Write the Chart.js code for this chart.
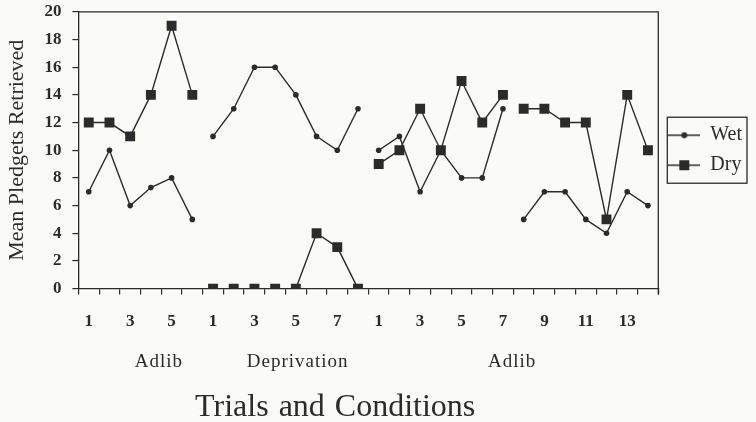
<!DOCTYPE html>
<html lang="en">
<head>
    <meta charset="UTF-8">
    <script src="https://cdn.jsdelivr.net/npm/chart.js"></script>
    <title>Mean Pledgets Retrieved</title>
    <style>
        body { margin: 0; background: #fafaf6; }
        #wrap { width: 756px; height: 422px; }
    </style>
</head>
<body>
    <div id="wrap"><canvas id="chart" width="756" height="422"></canvas></div>
    <script>
        // trial number inside each condition
        const trialLabels = ['1','2','3','4','5','6',
                             '1','2','3','4','5','6','7','8',
                             '1','2','3','4','5','6','7','8','9','10','11','12','13','14'];
        const conditionNames = ['Adlib', 'Deprivation', 'Adlib'];
        const xTitle = 'Trials and Conditions';
        const wetValues = [7, 10, 6, 7.3, 8, 5,
                           11, 13, 16, 16, 14, 11, 10, 13,
                           10, 11, 7, 10, 8, 8, 13, 5, 7, 7, 5, 4, 7, 6];
        const dryValues = [12, 12, 11, 14, 19, 14,
                           0, 0, 0, 0, 0, 4, 3, 0,
                           9, 10, 13, 10, 15, 12, 14, 13, 13, 12, 12, 5, 14, 10];
        // line is not drawn between these points and the next one
        const breakAfter = [5, 13, 20];
        const yTicks = [0, 2, 4, 6, 8, 10, 12, 14, 16, 18, 20];

        const ink = '#2b2b2b';
        const serif = "'Liberation Serif', 'Times New Roman', serif";
        // where the condition names sit under the axis (in category units)
        const conditionPos = [3.39, 10.09, 20.44];

        function legendIcon(style) {
            const c = document.createElement('canvas');
            c.width = 32; c.height = 14;
            const g = c.getContext('2d');
            g.strokeStyle = ink; g.fillStyle = ink; g.lineWidth = 1.5;
            g.beginPath(); g.moveTo(0, 7); g.lineTo(32, 7); g.stroke();
            if (style === 'rect') {
                g.fillRect(11, 2, 10, 10);
            } else {
                g.beginPath(); g.arc(16, 7, 3, 0, Math.PI * 2); g.fill();
            }
            return c;
        }

        const extras = {
            id: 'extras',
            beforeDraw(chart) {
                const ctx = chart.ctx;
                ctx.save();
                ctx.fillStyle = '#fafaf6';
                ctx.fillRect(0, 0, chart.width, chart.height);
                ctx.restore();
            },
            afterDraw(chart) {
                const ctx = chart.ctx;
                const a = chart.chartArea;
                ctx.save();
                ctx.strokeStyle = ink;
                ctx.lineWidth = 1.3;
                ctx.beginPath();
                ctx.moveTo(a.left, a.top);
                ctx.lineTo(a.right, a.top);
                ctx.lineTo(a.right, a.bottom + 6);
                ctx.stroke();

                // condition names under the trial numbers
                const x = chart.scales.x;
                ctx.fillStyle = ink;
                ctx.font = '19px ' + serif;
                ctx.letterSpacing = '1px';
                ctx.textAlign = 'center';
                ctx.textBaseline = 'middle';
                conditionNames.forEach((name, i) => {
                    ctx.fillText(name, x.getPixelForValue(conditionPos[i]), 362);
                });

                // axis title, set a little left of centre as in the original
                ctx.font = '32px ' + serif;
                ctx.letterSpacing = '0px';
                ctx.wordSpacing = '2px';
                ctx.textBaseline = 'alphabetic';
                ctx.fillText(xTitle, x.getPixelForValue(11.9), 416);

                // box round the legend
                const boxes = chart.legend.legendHitBoxes;
                if (boxes && boxes.length) {
                    const l = Math.min(...boxes.map(b => b.left)) - 1;
                    const t = Math.min(...boxes.map(b => b.top)) - 8;
                    const r = Math.max(...boxes.map(b => b.left + b.width)) + 5;
                    const bt = Math.max(...boxes.map(b => b.top + b.height)) + 8;
                    ctx.lineWidth = 1.3;
                    ctx.strokeRect(l, t, r - l, bt - t);
                }
                ctx.restore();
            }
        };

        new Chart(document.getElementById('chart'), {
            type: 'line',
            data: {
                labels: trialLabels,
                datasets: [
                    {
                        label: 'Wet',
                        data: wetValues,
                        order: 1,
                        borderColor: ink,
                        backgroundColor: ink,
                        borderWidth: 1.4,
                        pointStyle: 'circle',
                        pointRadius: 2.8,
                        pointBorderWidth: 0,
                        tension: 0,
                        segment: {
                            borderColor: c => breakAfter.includes(c.p0DataIndex) ? 'rgba(0,0,0,0)' : ink
                        }
                    },
                    {
                        label: 'Dry',
                        data: dryValues,
                        order: 0,
                        borderColor: ink,
                        backgroundColor: ink,
                        borderWidth: 1.4,
                        pointStyle: 'rect',
                        pointRadius: 7,
                        pointBorderWidth: 0,
                        tension: 0,
                        segment: {
                            borderColor: c => breakAfter.includes(c.p0DataIndex) ? 'rgba(0,0,0,0)' : ink
                        }
                    }
                ]
            },
            options: {
                responsive: false,
                animation: false,
                layout: { padding: { top: 0, right: 4, left: 0, bottom: 73 } },
                plugins: {
                    tooltip: { enabled: false },
                    legend: {
                        position: 'right',
                        fullSize: false,
                        labels: {
                            usePointStyle: true,
                            pointStyleWidth: 32,
                            padding: 10,
                            color: ink,
                            font: { family: serif, size: 20 },
                            generateLabels: chart => chart.data.datasets.map((ds, i) => ({
                                text: ds.label,
                                pointStyle: legendIcon(ds.pointStyle),
                                fontColor: ink,
                                datasetIndex: i,
                                hidden: false,
                                lineWidth: 0
                            }))
                        }
                    }
                },
                scales: {
                    x: {
                        offset: true,
                        grid: {
                            offset: true,
                            drawOnChartArea: false,
                            tickLength: 6,
                            color: ink,
                            lineWidth: 1.2
                        },
                        border: { color: ink, width: 1.3 },
                        ticks: {
                            autoSkip: false,
                            maxRotation: 0,
                            padding: 17,
                            color: ink,
                            font: { family: serif, size: 17, weight: 'bold' },
                            callback: (v, i) => Number(trialLabels[i]) % 2 === 1 ? trialLabels[i] : ''
                        }
                    },
                    y: {
                        min: 0,
                        max: 20,
                        afterBuildTicks: s => { s.ticks = yTicks.map(v => ({ value: v })); },
                        grid: {
                            drawOnChartArea: false,
                            tickLength: 6,
                            color: ink,
                            lineWidth: 1.2
                        },
                        border: { color: ink, width: 1.3 },
                        ticks: {
                            padding: 11,
                            color: ink,
                            // tiny line height keeps the top label from pushing the plot down
                            font: { family: serif, size: 17, weight: 'bold', lineHeight: 0.1 }
                        },
                        title: {
                            display: true,
                            text: 'Mean Pledgets Retrieved',
                            color: ink,
                            font: { family: serif, size: 22 },
                            padding: { top: 4, bottom: 3 }
                        }
                    }
                }
            },
            plugins: [extras]
        });
    </script>
</body>
</html>
